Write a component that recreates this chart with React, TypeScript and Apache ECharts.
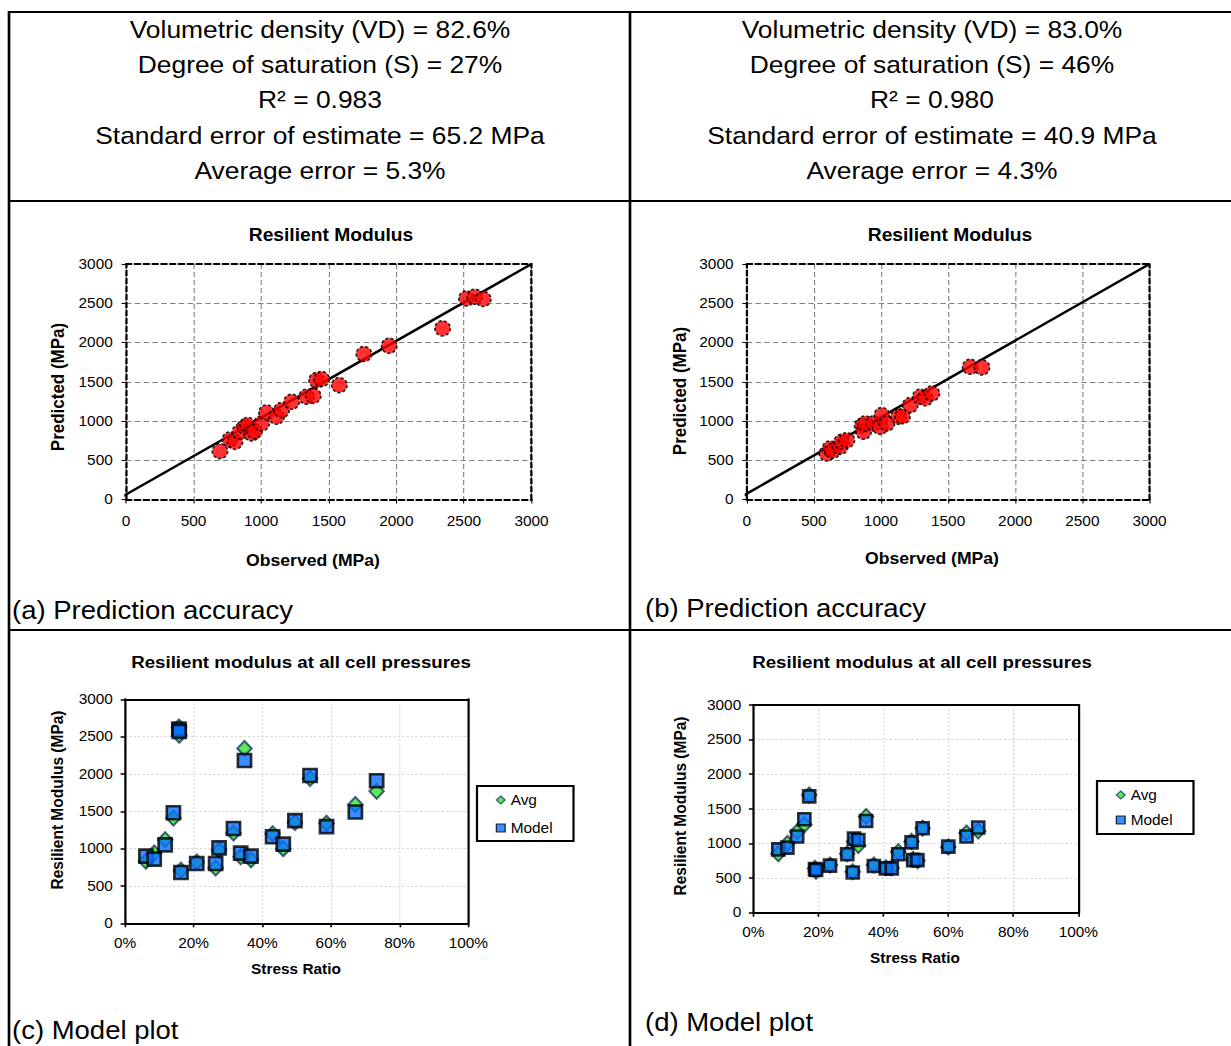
import React, { useEffect, useRef } from "react";
import * as echarts from "echarts";

// ---------- data ----------
const headerA = [
  "Volumetric density (VD) = 82.6%",
  "Degree of saturation (S) = 27%",
  "R² = 0.983",
  "Standard error of estimate = 65.2 MPa",
  "Average error = 5.3%",
];
const headerB = [
  "Volumetric density (VD) = 83.0%",
  "Degree of saturation (S) = 46%",
  "R² = 0.980",
  "Standard error of estimate = 40.9 MPa",
  "Average error = 4.3%",
];

const modTicks = [0, 500, 1000, 1500, 2000, 2500, 3000];
const ratioTicks = [0, 20, 40, 60, 80, 100];

const obsA = [695, 769, 806, 843, 880, 900, 929, 950, 1003, 1040, 1114, 1151, 1225, 1336, 1385, 1410, 1447, 1578, 1760, 1947, 2342, 2519, 2581, 2643];
const predA = [616, 765, 735, 863, 926, 950, 841, 870, 969, 1109, 1054, 1139, 1245, 1309, 1321, 1521, 1534, 1457, 1853, 1959, 2180, 2562, 2583, 2554];
const fitA = [[-65, 0], [3000, 3000]];

const obsB = [597, 621, 640, 696, 708, 746, 860, 870, 882, 945, 994, 1007, 1044, 1131, 1160, 1218, 1292, 1330, 1379, 1665, 1752];
const predB = [586, 650, 620, 671, 735, 756, 940, 863, 969, 969, 926, 1075, 969, 1054, 1060, 1202, 1309, 1290, 1351, 1691, 1683];
const fitB = [[-75, 0], [3000, 3000]];

const ratioC = [6.1, 8.5, 11.7, 14.1, 15.7, 15.8, 16.3, 20.9, 26.4, 27.4, 31.6, 33.7, 34.8, 36.7, 43.0, 46.1, 49.5, 53.9, 58.7, 67.1, 73.3];
const avgC = [830, 940, 1120, 1410, 2630, 2520, 710, 820, 740, 980, 1210, 890, 2340, 850, 1200, 1000, 1350, 1940, 1340, 1590, 1770];
const modelC = [900, 860, 1050, 1480, 2600, 2570, 680, 800, 800, 1010, 1270, 940, 2180, 900, 1160, 1060, 1375, 1980, 1295, 1490, 1910];

const ratioD = [7.7, 10.5, 13.5, 15.7, 17.2, 19.0, 19.3, 23.6, 28.9, 30.6, 31.0, 32.3, 34.7, 37.1, 40.8, 42.6, 44.6, 48.7, 49.2, 50.5, 52.1, 60.0, 65.6, 69.2];
const avgD = [850, 1000, 1170, 1270, 1700, 640, 600, 690, 850, 590, 1030, 970, 1390, 690, 650, 650, 880, 1030, 770, 750, 1220, 950, 1150, 1180];
const modelD = [915, 940, 1100, 1350, 1680, 630, 616, 680, 845, 580, 1070, 1050, 1325, 675, 640, 640, 845, 1015, 760, 760, 1220, 955, 1100, 1230];

// ---------- layout helpers ----------
const S = 1.1; // horizontal stretch of the reference
const W = 1231 / S;
const H = 1046;
const px = (x: number) => x / S;
const FONT = "Liberation Sans";

const pairs = (xs: number[], ys: number[]) => xs.map((x, i) => [x, ys[i]]);

const txt = (
  text: string,
  x: number,
  y: number,
  size: number,
  opts: { bold?: boolean; align?: string; rot?: boolean } = {}
) => ({
  type: "text",
  x: px(x),
  y,
  rotation: opts.rot ? Math.PI / 2 : 0,
  style: {
    text,
    fontSize: size,
    fontFamily: FONT,
    fontWeight: opts.bold ? "bold" : "normal",
    fill: "#000",
    align: opts.align || "center",
    verticalAlign: "middle",
  },
});

const hline = (y: number, x1: number, x2: number) => ({
  type: "line",
  shape: { x1: px(x1), y1: y, x2: px(x2), y2: y },
  style: { stroke: "#000", lineWidth: 2 },
});
const vline = (x: number, y1: number, y2: number) => ({
  type: "line",
  shape: { x1: px(x), y1, x2: px(x), y2 },
  style: { stroke: "#000", lineWidth: 2.4 },
});

const labelStyle = { fontSize: 14, color: "#000", fontFamily: FONT };
const plain = (v: number) => String(v);

function modAxisX(gridIndex: number) {
  return {
    type: "value",
    gridIndex,
    min: 0,
    max: 3000,
    interval: 500,
    axisLine: { show: true, onZero: false, lineStyle: { color: "#000", type: [5, 3], width: 2 } },
    axisTick: { show: true, length: 4, lineStyle: { color: "#000" } },
    axisLabel: { ...labelStyle, margin: 15, formatter: (v: number) => (modTicks.includes(v) ? String(v) : "") },
    splitLine: { show: true, lineStyle: { color: "#808080", type: [5, 3], width: 1 } },
  };
}
function modAxisY(gridIndex: number) {
  return {
    type: "value",
    gridIndex,
    min: 0,
    max: 3000,
    interval: 500,
    axisLine: { show: true, onZero: false, lineStyle: { color: "#000", type: [5, 3], width: 2 } },
    axisTick: { show: true, length: 4, lineStyle: { color: "#000" } },
    axisLabel: { ...labelStyle, margin: 12, formatter: plain },
    splitLine: { show: true, lineStyle: { color: "#808080", type: [5, 3], width: 1 } },
  };
}
function borderAxis(gridIndex: number, position: string, solid: boolean, max: number) {
  return {
    type: "value",
    gridIndex,
    position,
    min: 0,
    max,
    axisLine: {
      show: true,
      onZero: false,
      lineStyle: { color: "#000", type: solid ? "solid" : [5, 3], width: 2 },
    },
    axisTick: { show: false },
    axisLabel: { show: false },
    splitLine: { show: false },
    z: 10,
  };
}
function ratioAxisX(gridIndex: number, margin: number) {
  return {
    type: "value",
    gridIndex,
    min: 0,
    max: 100,
    interval: 20,
    axisLine: { show: true, onZero: false, lineStyle: { color: "#000", width: 2 } },
    axisTick: { show: true, length: 4, lineStyle: { color: "#000", width: 1.5 } },
    axisLabel: { ...labelStyle, margin, formatter: (v: number) => (ratioTicks.includes(v) ? v + "%" : "") },
    splitLine: { show: true, lineStyle: { color: "#d4d4d4", type: [2, 2], width: 1 } },
  };
}
function ratioAxisY(gridIndex: number) {
  return {
    type: "value",
    gridIndex,
    min: 0,
    max: 3000,
    interval: 500,
    axisLine: { show: true, onZero: false, lineStyle: { color: "#000", width: 2 } },
    axisTick: { show: true, length: 4, lineStyle: { color: "#000", width: 1.5 } },
    axisLabel: { ...labelStyle, margin: 11, formatter: plain },
    splitLine: { show: true, lineStyle: { color: "#d4d4d4", type: [2, 2], width: 1 } },
  };
}

const redDot = {
  type: "scatter",
  symbol: "circle",
  symbolSize: [14, 15],
  z: 5,
  itemStyle: { color: "#ff0000", borderColor: "#000", borderWidth: 1.6, borderType: [3, 2] },
};
const fitLine = {
  type: "line",
  symbol: "none",
  clip: false,
  z: 3,
  lineStyle: { color: "#000", width: 2.5 },
};
const GREEN = "#2ee62e";
const BLUE = "#0a72ff";
const NAVY = "#1f3a5f";

export default function App() {
  const ref = useRef<HTMLDivElement>(null);
  useEffect(() => {
    if (!ref.current) return;
    const chart = echarts.init(ref.current, null, { renderer: "svg", width: W, height: H });

    const graphics: any[] = [
      hline(12, 8, 1232),
      hline(201, 8, 1232),
      hline(630, 8, 1232),
      vline(9, 11, 1046),
      vline(630, 11, 1046),
    ];
    const ys = [29, 64, 99, 135, 170];
    headerA.forEach((t, i) => graphics.push(txt(t, 320, ys[i], 24)));
    headerB.forEach((t, i) => graphics.push(txt(t, 932, ys[i], 24)));
    graphics.push(
      txt("Resilient Modulus", 331, 235, 17.5, { bold: true }),
      txt("Resilient Modulus", 950, 235, 17.5, { bold: true }),
      txt("Observed (MPa)", 313, 561, 16, { bold: true }),
      txt("Observed (MPa)", 932, 559, 16, { bold: true }),
      txt("Predicted (MPa)", 58, 387, 17, { bold: true, rot: true }),
      txt("Predicted (MPa)", 680, 391, 17, { bold: true, rot: true }),
      txt("(a) Prediction accuracy", 12, 610, 25, { align: "left" }),
      txt("(b) Prediction accuracy", 645, 608, 25, { align: "left" }),
      txt("Resilient modulus at all cell pressures", 301, 662, 17, { bold: true }),
      txt("Resilient modulus at all cell pressures", 922, 662, 17, { bold: true }),
      txt("Stress Ratio", 296, 969, 14, { bold: true }),
      txt("Stress Ratio", 915, 958, 14, { bold: true }),
      txt("Resilient Modulus (MPa)", 57, 800, 15.5, { bold: true, rot: true }),
      txt("Resilient Modulus (MPa)", 680, 806, 15.5, { bold: true, rot: true }),
      txt("(c) Model plot", 12, 1030, 25, { align: "left" }),
      txt("(d) Model plot", 645, 1022, 25, { align: "left" })
    );

    const legendBase = {
      orient: "vertical",
      data: ["Avg", "Model"],
      itemWidth: 8,
      itemHeight: 8,
      borderColor: "#000",
      borderWidth: 2,
      selectedMode: false,
      textStyle: { fontSize: 14, fontFamily: FONT, color: "#000", lineHeight: 16 },
      itemStyle: { borderWidth: 1.2 },
    };

    chart.setOption({
      animation: false,
      backgroundColor: "#fff",
      textStyle: { fontFamily: FONT },
      graphic: { elements: graphics },
      grid: [
        { left: px(126), top: 264, width: px(531.5 - 126), height: 235.5 },
        { left: px(746.7), top: 264, width: px(1149.5 - 746.7), height: 235.5 },
        { left: px(125), top: 699.3, width: px(468.3 - 125), height: 224 },
        { left: px(753.3), top: 705, width: px(1078.3 - 753.3), height: 207.7 },
      ],
      legend: [
        { ...legendBase, left: px(477), top: 786, padding: [6, 19, 5, 17], itemGap: 12 },
        { ...legendBase, left: px(1097), top: 781, padding: [6, 19, 6, 17], itemGap: 9 },
      ],
      xAxis: [
        modAxisX(0),
        borderAxis(0, "top", false, 3000),
        modAxisX(1),
        borderAxis(1, "top", false, 3000),
        ratioAxisX(2, 13),
        ratioAxisX(3, 13),
        borderAxis(2, "top", true, 100),
        borderAxis(3, "top", true, 100),
      ],
      yAxis: [
        modAxisY(0),
        borderAxis(0, "right", false, 3000),
        modAxisY(1),
        borderAxis(1, "right", false, 3000),
        ratioAxisY(2),
        ratioAxisY(3),
        borderAxis(2, "right", true, 3000),
        borderAxis(3, "right", true, 3000),
      ],
      series: [
        { ...fitLine, name: "Fit A", xAxisIndex: 0, yAxisIndex: 0, data: fitA },
        { ...redDot, name: "Obs A", xAxisIndex: 0, yAxisIndex: 0, data: pairs(obsA, predA) },
        { ...fitLine, name: "Fit B", xAxisIndex: 2, yAxisIndex: 2, data: fitB },
        { ...redDot, name: "Obs B", xAxisIndex: 2, yAxisIndex: 2, data: pairs(obsB, predB) },
        {
          name: "Avg", type: "scatter", xAxisIndex: 4, yAxisIndex: 4, symbol: "diamond", symbolSize: [13, 15], z: 4,
          itemStyle: { color: GREEN, borderColor: NAVY, borderWidth: 2 }, data: pairs(ratioC, avgC),
        },
        {
          name: "Model", type: "scatter", xAxisIndex: 4, yAxisIndex: 4, symbol: "rect", symbolSize: [12, 13], z: 5,
          itemStyle: { color: BLUE, borderColor: "#000", borderWidth: 2.5 }, data: pairs(ratioC, modelC),
        },
        {
          name: "Avg", type: "scatter", xAxisIndex: 5, yAxisIndex: 5, symbol: "diamond", symbolSize: [13, 15], z: 4,
          itemStyle: { color: GREEN, borderColor: NAVY, borderWidth: 2 }, data: pairs(ratioD, avgD),
        },
        {
          name: "Model", type: "scatter", xAxisIndex: 5, yAxisIndex: 5, symbol: "rect", symbolSize: [11, 12], z: 5,
          itemStyle: { color: BLUE, borderColor: "#000", borderWidth: 2.5 }, data: pairs(ratioD, modelD),
        },
      ],
    });
    return () => chart.dispose();
  }, []);

  return (
    <div
      ref={ref}
      style={{
        position: "absolute",
        left: 0,
        top: 0,
        width: W,
        height: H,
        transform: `scaleX(${S})`,
        transformOrigin: "0 0",
        background: "#fff",
      }}
    />
  );
}
